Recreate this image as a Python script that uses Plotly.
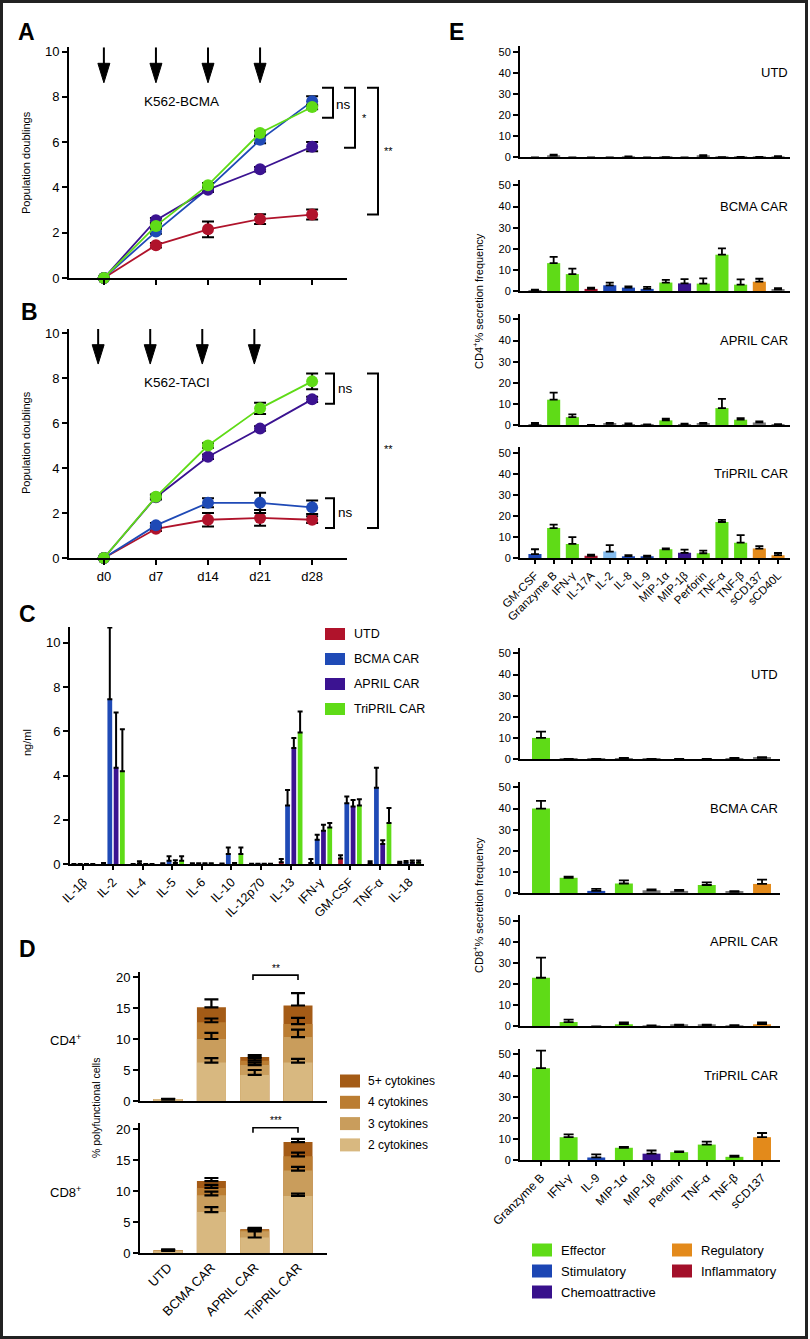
import numpy as np
import plotly.graph_objects as go

W, H = 810, 1339
FONT = "Liberation Sans, Arial, Helvetica, sans-serif"
NARROW = "Liberation Sans Narrow, Arial Narrow, Liberation Sans, sans-serif"

# ====================== DATA ======================
# Panels A / B : population doublings
days = ["d0", "d7", "d14", "d21", "d28"]
stim_days = [0, 1, 2, 3]
conditions = ["UTD", "BCMA CAR", "APRIL CAR", "TriPRIL CAR"]

a_utd = [0.0, 1.45, 2.15, 2.60, 2.80]
a_bcma = [0.0, 2.05, 3.95, 6.10, 7.80]
a_april = [0.0, 2.55, 3.90, 4.80, 5.80]
a_tripril = [0.0, 2.30, 4.10, 6.40, 7.55]
a_utd_err = [0.0, 0.10, 0.35, 0.22, 0.22]
a_bcma_err = [0.0, 0.10, 0.10, 0.15, 0.22]
a_april_err = [0.0, 0.10, 0.10, 0.10, 0.20]
a_tripril_err = [0.0, 0.10, 0.10, 0.10, 0.10]

b_utd = [0.0, 1.30, 1.70, 1.78, 1.70]
b_bcma = [0.0, 1.45, 2.45, 2.45, 2.25]
b_april = [0.0, 2.70, 4.50, 5.75, 7.05]
b_tripril = [0.0, 2.72, 5.00, 6.65, 7.85]
b_utd_err = [0.0, 0.10, 0.30, 0.35, 0.15]
b_bcma_err = [0.0, 0.10, 0.20, 0.45, 0.30]
b_april_err = [0.0, 0.10, 0.10, 0.10, 0.12]
b_tripril_err = [0.0, 0.10, 0.10, 0.25, 0.35]

# Panel C : cytokines (ng/ml)
c_cytokines = ["IL-1β", "IL-2", "IL-4", "IL-5", "IL-6", "IL-10", "IL-12p70",
               "IL-13", "IFN-γ", "GM-CSF", "TNF-α", "IL-18"]
c_utd = [0.0, 0.05, 0.0, 0.03, 0.03, 0.02, 0.01, 0.08, 0.05, 0.25, 0.03, 0.05]
c_utd_err = [None, None, None, None, None, None, None, 0.15, 0.18, 0.15, 0.10, 0.05]
c_bcma = [0.0, 7.45, 0.02, 0.15, 0.03, 0.45, 0.01, 2.65, 1.10, 2.75, 3.45, 0.06]
c_bcma_err = [None, 3.25, 0.10, 0.20, None, 0.30, None, 0.70, 0.22, 0.30, 0.90, 0.08]
c_april = [0.0, 4.35, 0.0, 0.05, 0.03, 0.05, 0.01, 5.25, 1.50, 2.60, 0.90, 0.06]
c_april_err = [None, 2.50, None, 0.12, None, None, None, 0.45, 0.28, 0.30, 0.17, 0.10]
c_tripril = [0.0, 4.20, 0.0, 0.15, 0.03, 0.45, 0.01, 5.95, 1.65, 2.65, 1.85, 0.06]
c_tripril_err = [None, 1.90, None, 0.20, None, 0.30, None, 0.95, 0.20, 0.28, 0.68, 0.10]

# Panel D : polyfunctionality (% cells), segments by number of cytokines
d_levels = ["2 cytokines", "3 cytokines", "4 cytokines", "5+ cytokines"]
cd4_2 = [0.20, 6.2, 4.2, 6.2]
cd4_3 = [0.05, 3.8, 1.6, 4.1]
cd4_4 = [0.03, 2.7, 0.7, 2.1]
cd4_5 = [0.02, 2.4, 0.6, 3.0]
cd4_2_err = [0.05, 0.7, 0.8, 0.6]
cd4_3_err = [None, 1.0, 0.4, 1.2]
cd4_4_err = [None, 0.6, 0.4, 1.0]
cd4_5_err = [0.05, 1.3, 0.3, 2.0]

cd8_2 = [0.35, 6.6, 2.5, 9.2]
cd8_3 = [0.10, 2.7, 1.0, 4.1]
cd8_4 = [0.00, 1.2, 0.2, 2.3]
cd8_5 = [0.00, 1.1, 0.15, 2.3]
cd8_2_err = [None, 0.8, 1.4, 0.4]
cd8_3_err = [None, 0.6, 0.4, 0.6]
cd8_4_err = [None, 0.5, 0.3, 0.6]
cd8_5_err = [0.15, 0.5, 0.2, 0.5]

# Panel E : single-cell secretion frequency (%)
e_cd4_cytokines = ["GM-CSF", "Granzyme B", "IFN-γ", "IL-17A", "IL-2", "IL-8", "IL-9",
                   "MIP-1α", "MIP-1β", "Perforin", "TNF-α", "TNF-β", "sCD137", "sCD40L"]
e_cd4_utd = [0.0, 0.8, 0.0, 0.0, 0.0, 0.2, 0.0, 0.1, 0.0, 0.5, 0.1, 0.1, 0.1, 0.3]
e_cd4_utd_err = [None, 0.5, None, None, None, 0.2, None, None, None, 0.5, None, 0.1, 0.1, 0.2]
e_cd4_bcma = [0.3, 13.2, 8.0, 1.0, 2.7, 1.6, 1.0, 4.0, 3.6, 3.5, 17.2, 3.0, 4.4, 0.8]
e_cd4_bcma_err = [0.3, 3.0, 2.6, 0.6, 1.3, 0.6, 1.0, 1.3, 2.0, 2.5, 3.0, 2.5, 1.4, 0.5]
e_cd4_april = [0.3, 12.0, 3.7, 0.0, 0.5, 0.3, 0.1, 2.2, 0.3, 0.5, 8.0, 2.5, 1.2, 0.2]
e_cd4_april_err = [0.7, 3.3, 1.3, None, 0.5, 0.5, 0.2, 0.8, 0.3, 0.5, 4.4, 0.7, 0.5, 0.2]
e_cd4_tripril = [2.0, 14.3, 6.8, 1.2, 3.2, 1.0, 0.7, 4.3, 2.6, 2.4, 17.2, 7.4, 4.6, 1.5]
e_cd4_tripril_err = [2.3, 1.7, 3.2, 0.5, 3.0, 0.5, 0.6, 0.4, 1.5, 1.2, 1.0, 3.6, 1.2, 1.0]

e_cd8_cytokines = ["Granzyme B", "IFN-γ", "IL-9", "MIP-1α", "MIP-1β", "Perforin",
                   "TNF-α", "TNF-β", "sCD137"]
e_cd8_utd = [10.0, 0.1, 0.1, 0.3, 0.1, 0.0, 0.0, 0.3, 0.6]
e_cd8_utd_err = [3.0, None, None, 0.2, None, None, None, 0.2, 0.3]
e_cd8_bcma = [40.0, 7.2, 1.0, 4.5, 1.3, 1.0, 3.8, 0.5, 4.3]
e_cd8_bcma_err = [3.7, 0.5, 1.0, 1.5, 0.4, 0.5, 1.2, 0.4, 2.0]
e_cd8_april = [23.0, 2.0, 0.0, 1.0, 0.2, 0.5, 0.5, 0.3, 1.0]
e_cd8_april_err = [9.5, 1.2, None, 0.8, 0.2, 0.3, 0.3, 0.2, 0.8]
e_cd8_tripril = [43.5, 10.8, 1.2, 5.8, 3.0, 3.7, 7.3, 1.5, 10.8]
e_cd8_tripril_err = [8.3, 1.3, 1.5, 0.4, 1.5, 0.4, 1.4, 0.6, 2.0]

e_classes = ["Effector", "Stimulatory", "Chemoattractive", "Regulatory", "Inflammatory"]

# ====================== STYLE ======================
COND_COL = ["#b0132b", "#1f4ab6", "#3b1391", "#5fdb17"]
LEVEL_COL = ["#d8b880", "#c99d5c", "#bb7d32", "#a45b16"]
CLASS_COL = {"E": "#5fdb17", "S": "#1c46b4", "C": "#38118c", "R": "#e38a1b",
             "I": "#a3102a", "L": "#86bdee", "G": "#7a7a7a"}
CLASS_CODE = ["E", "S", "C", "R", "I"]
e_cd4_codes = ["GGGGGGGGGGGGGG", "GEEISSSECEEERG", "GEEGGGGEGGEEGG", "SEEILSSECEEERR"]
e_cd8_codes = ["EGGGGGGGG", "EESEGGEGR", "EEGEGGGGR", "EESECEEER"]


def X(p):
    return p / W


def Y(p):
    return 1 - p / H


def xdom(l, r):
    return [l / W, r / W]


def ydom(t, b):
    return [1 - b / H, 1 - t / H]


def ax(size=13, **kw):
    d = dict(showline=True, linecolor="black", linewidth=2, showgrid=False,
             zeroline=False, ticks="outside", ticklen=5, tickwidth=2,
             tickcolor="black", fixedrange=True, automargin=False,
             tickfont=dict(family=FONT, size=size, color="black"))
    d.update(kw)
    return d


def bare_x(**kw):
    # x axis that shows only its line (no ticks, no labels)
    return ax(ticks="", showticklabels=False, tickmode="array", tickvals=[], **kw)


fig = go.Figure()
layout = {}
shapes = []
annotations = []


def text(x, y, s, size=12, xref="paper", yref="paper", xanchor="center",
         yanchor="middle", family=FONT, angle=0):
    annotations.append(dict(x=x, y=y, xref=xref, yref=yref, text=s, showarrow=False,
                            xanchor=xanchor, yanchor=yanchor, textangle=angle,
                            font=dict(family=family, size=size, color="black")))


def ypx(val, bottom_px, px_per_unit):
    return Y(bottom_px - val * px_per_unit)


# ====================== PANELS A & B ======================
def growth_panel(k, series, errs, arrow_shift, label_x, label):
    xa, ya = ("x" if k == 1 else f"x{k}"), ("y" if k == 1 else f"y{k}")
    for name, vals, err, col in zip(conditions, series, errs, COND_COL):
        fig.add_trace(go.Scatter(
            x=list(range(len(days))), y=vals, mode="lines+markers", name=name,
            line=dict(color=col, width=1.8), marker=dict(size=12, color=col),
            error_y=dict(type="data", array=err, color="black", thickness=2, width=6),
            cliponaxis=False, showlegend=False, xaxis=xa, yaxis=ya))
    for d in stim_days:
        xx = d + arrow_shift
        shapes.append(dict(type="line", xref=xa, yref=ya, x0=xx, x1=xx, y0=10.18, y1=9.4,
                           line=dict(color="black", width=2)))
        shapes.append(dict(type="path", xref=xa, yref=ya,
                           path=f"M{xx - 0.115},{9.48} L{xx + 0.115},{9.48} L{xx},{8.62} Z",
                           fillcolor="black", line=dict(color="black", width=1)))
    text(label_x, 7.8, label, size=13.5, xref=xa, yref=ya)


growth_panel(1, [a_utd, a_bcma, a_april, a_tripril],
             [a_utd_err, a_bcma_err, a_april_err, a_tripril_err], 0.0, 1.5, "K562-BCMA")
growth_panel(2, [b_utd, b_bcma, b_april, b_tripril],
             [b_utd_err, b_bcma_err, b_april_err, b_tripril_err], -0.11, 1.4, "K562-TACI")

layout["xaxis"] = ax(domain=xdom(69, 347), range=[-0.67, 4.67], anchor="y",
                     tickvals=list(range(5)), showticklabels=False)
layout["yaxis"] = ax(domain=ydom(47, 278), range=[0, 10.2], anchor="x",
                     tickvals=[0, 2, 4, 6, 8, 10])
layout["xaxis2"] = ax(domain=xdom(69, 347), range=[-0.67, 4.67], anchor="y2",
                      tickvals=list(range(5)), ticktext=days)
layout["yaxis2"] = ax(domain=ydom(328.5, 558), range=[0, 10.2], anchor="x2",
                      tickvals=[0, 2, 4, 6, 8, 10])


def bracket(x0p, x1p, yref, ytop, ybot, width=2):
    shapes.append(dict(type="path", xref="paper", yref=yref,
                       path=f"M{X(x0p)},{ytop} L{X(x1p)},{ytop} L{X(x1p)},{ybot} L{X(x0p)},{ybot}",
                       line=dict(color="black", width=width)))


bracket(322, 333, "y", 8.4, 7.08)
bracket(344, 355, "y", 8.4, 5.75)
bracket(367, 378, "y", 8.4, 2.8)
text(X(343), ypx(7.65, 278, 22.65), "ns", size=13.5)
text(X(364), ypx(7.05, 278, 22.65), "*", size=11)
text(X(388), ypx(5.6, 278, 22.65), "**", size=11)

bracket(325, 334, "y2", 8.2, 6.85)
bracket(325, 334, "y2", 2.65, 1.33)
bracket(367, 378, "y2", 8.2, 1.33)
text(X(345), ypx(7.55, 558, 22.5), "ns", size=13.5)
text(X(345), ypx(2.0, 558, 22.5), "ns", size=13.5)
text(X(388), ypx(4.85, 558, 22.5), "**", size=11)

text(X(26), Y(163), "Population doublings", size=11, family=NARROW, angle=-90)
text(X(26), Y(443), "Population doublings", size=11, family=NARROW, angle=-90)

# ====================== PANEL C ======================
c_vals = [c_utd, c_bcma, c_april, c_tripril]
c_errs = [c_utd_err, c_bcma_err, c_april_err, c_tripril_err]
step, bw = 0.212, 0.16
for i, (name, vals, err, col) in enumerate(zip(conditions, c_vals, c_errs, COND_COL)):
    fig.add_trace(go.Bar(
        x=list(range(len(c_cytokines))), y=vals, name=name, marker=dict(color=col, line=dict(width=0)),
        width=bw, offset=(i - 1.5) * step - bw / 2,
        error_y=dict(type="data", array=err, arrayminus=[0] * len(err), symmetric=False,
                     color="black", thickness=2, width=2.5),
        showlegend=False, xaxis="x3", yaxis="y3"))
layout["xaxis3"] = ax(size=12.5, domain=xdom(70, 424), range=[-0.45, 11.5], anchor="y3",
                      tickvals=list(range(len(c_cytokines))), ticktext=c_cytokines,
                      tickangle=-45, ticklen=4)
layout["yaxis3"] = ax(domain=ydom(627, 864), range=[0, 10.72], anchor="x3",
                      tickvals=[0, 2, 4, 6, 8, 10])
text(X(27), Y(743), "ng/ml", size=11, family=NARROW, angle=-90)


def swatch(x0, yc, color, w=20, h=12):
    shapes.append(dict(type="rect", xref="paper", yref="paper", x0=X(x0), x1=X(x0 + w),
                       y0=Y(yc + h / 2), y1=Y(yc - h / 2), fillcolor=color, line=dict(width=0)))


for j, (name, col) in enumerate(zip(conditions, COND_COL)):
    yc = 634 + j * 25
    swatch(325, yc, col)
    text(X(352), Y(yc), name, size=12.5, xanchor="left")


# ====================== PANEL D ======================
def poly_panel(k, segs, errs):
    # cumulative heights; the tallest is drawn first so every level's error bar stays visible
    xa, ya = f"x{k}", f"y{k}"
    xs = list(range(len(conditions)))
    cum = np.cumsum(np.array(segs, dtype=float), axis=0)
    for lvl in range(len(segs) - 1, -1, -1):
        err = errs[lvl]
        fig.add_trace(go.Bar(x=xs, y=cum[lvl], width=0.67, offset=-0.335,
                             name=d_levels[lvl],
                             marker=dict(color=LEVEL_COL[lvl], line=dict(width=0)),
                             error_y=dict(type="data", array=err, arrayminus=[0] * len(err),
                                          symmetric=False, color="black", thickness=2.2, width=7),
                             showlegend=False, xaxis=xa, yaxis=ya))


poly_panel(4, [cd4_2, cd4_3, cd4_4, cd4_5], [cd4_2_err, cd4_3_err, cd4_4_err, cd4_5_err])
poly_panel(5, [cd8_2, cd8_3, cd8_4, cd8_5], [cd8_2_err, cd8_3_err, cd8_4_err, cd8_5_err])
layout["xaxis4"] = bare_x(domain=xdom(140, 327), range=[-0.65, 3.67], anchor="y4")
layout["yaxis4"] = ax(domain=ydom(972, 1101), range=[0, 20.8], anchor="x4",
                      tickvals=[0, 5, 10, 15, 20])
layout["xaxis5"] = ax(domain=xdom(140, 327), range=[-0.65, 3.67], anchor="y5",
                      ticks="", tickvals=list(range(4)), ticktext=conditions, tickangle=-45)
layout["yaxis5"] = ax(domain=ydom(1123, 1253), range=[0, 20.97], anchor="x5",
                      tickvals=[0, 5, 10, 15, 20])

shapes.append(dict(type="path", xref="x4", yref="y4", path="M1.96,19.5 L1.96,20.3 L3.0,20.3 L3.0,19.5",
                   line=dict(color="black", width=1.6)))
text(X(276), Y(968), "**", size=10)
shapes.append(dict(type="path", xref="x5", yref="y5", path="M1.96,19.4 L1.96,20.2 L3.0,20.2 L3.0,19.4",
                   line=dict(color="black", width=1.6)))
text(X(276), Y(1120), "***", size=10)

text(X(65), Y(1040), "CD4<sup>+</sup>", size=13)
text(X(65), Y(1192), "CD8<sup>+</sup>", size=13)
text(X(96), Y(1108), "% polyfunctional cells", size=10.5, family=NARROW, angle=-90)

for j, (lev, col) in enumerate(zip(d_levels[::-1], LEVEL_COL[::-1])):
    yc = 1081 + j * 21.3
    swatch(340, yc, col, w=20, h=13)
    text(X(366), Y(yc), lev, size=12, xanchor="left")

# ====================== PANEL E ======================
cd4_bases = [157.3, 291, 425, 558.3]
cd8_bases = [759, 893, 1026.3, 1160]
E_TOP = 52.6
E_HEIGHT = 111
e_cd4_vals = [e_cd4_utd, e_cd4_bcma, e_cd4_april, e_cd4_tripril]
e_cd4_errs = [e_cd4_utd_err, e_cd4_bcma_err, e_cd4_april_err, e_cd4_tripril_err]
e_cd8_vals = [e_cd8_utd, e_cd8_bcma, e_cd8_april, e_cd8_tripril]
e_cd8_errs = [e_cd8_utd_err, e_cd8_bcma_err, e_cd8_april_err, e_cd8_tripril_err]


def e_panel(k, cats, vals, errs, codes, base_px, right_px, rng, bw, capw, last, label, tsize):
    xa, ya = f"x{k}", f"y{k}"
    fig.add_trace(go.Bar(
        x=list(range(len(cats))), y=vals, width=bw, name=label,
        marker=dict(color=[CLASS_COL[c] for c in codes], line=dict(width=0)),
        error_y=dict(type="data", array=errs, arrayminus=[0] * len(errs), symmetric=False,
                     color="black", thickness=1.8, width=capw),
        showlegend=False, xaxis=xa, yaxis=ya))
    if last:
        layout[f"xaxis{k}"] = ax(size=tsize, domain=xdom(520, right_px), range=rng, anchor=ya,
                                 tickvals=list(range(len(cats))), ticktext=cats,
                                 tickangle=-45, ticklen=4)
    else:
        layout[f"xaxis{k}"] = bare_x(domain=xdom(520, right_px), range=rng, anchor=ya)
    layout[f"yaxis{k}"] = ax(size=11, domain=ydom(base_px - E_HEIGHT, base_px), range=[0, E_TOP],
                             anchor=xa, tickvals=[0, 10, 20, 30, 40, 50])
    text(X(right_px), ypx(40, base_px, E_HEIGHT / E_TOP), label, size=13, xanchor="right")


for i in range(4):
    e_panel(6 + i, e_cd4_cytokines, e_cd4_vals[i], e_cd4_errs[i], e_cd4_codes[i],
            cd4_bases[i], 790, [-0.8, 13.64], 0.7, 4, i == 3, conditions[i], 11.5)
    e_panel(10 + i, e_cd8_cytokines, e_cd8_vals[i], e_cd8_errs[i], e_cd8_codes[i],
            cd8_bases[i], 780, [-0.76, 8.65], 0.65, 5, i == 3, conditions[i], 12)

text(X(478), Y(301), "CD4<sup>+</sup>% secretion frequency", size=11, family=NARROW, angle=-90)
text(X(478), Y(905), "CD8<sup>+</sup>% secretion frequency", size=11, family=NARROW, angle=-90)

legend_pos = [(532, 1250), (532, 1271), (532, 1292), (672, 1250), (672, 1271)]
for name, code, (lx, ly) in zip(e_classes, CLASS_CODE, legend_pos):
    swatch(lx, ly, CLASS_COL[code], w=20, h=13)
    text(X(lx + 27), Y(ly), name, size=13, xanchor="left")

# ====================== LETTERS & FRAME ======================
for s, lx, ly in [("A", 26, 32), ("B", 29, 312), ("C", 27, 614), ("D", 27, 949), ("E", 456, 32)]:
    text(X(lx), Y(ly), f"<b>{s}</b>", size=23)

shapes.append(dict(type="rect", xref="paper", yref="paper", x0=X(1.5), x1=X(806.5),
                   y0=Y(1337.5), y1=Y(1.5), line=dict(color="#222222", width=3),
                   fillcolor="rgba(0,0,0,0)"))

layout.update(dict(width=W, height=H, autosize=False,
                   margin=dict(l=0, r=0, t=0, b=0, pad=0),
                   paper_bgcolor="white", plot_bgcolor="white",
                   font=dict(family=FONT, color="black"),
                   showlegend=False, shapes=shapes, annotations=annotations))
fig.update_layout(**layout)
fig.write_html("out.html", config={"displayModeBar": False},
               post_script="document.body.style.margin='0px';"
                           "document.documentElement.style.overflow='hidden';")
